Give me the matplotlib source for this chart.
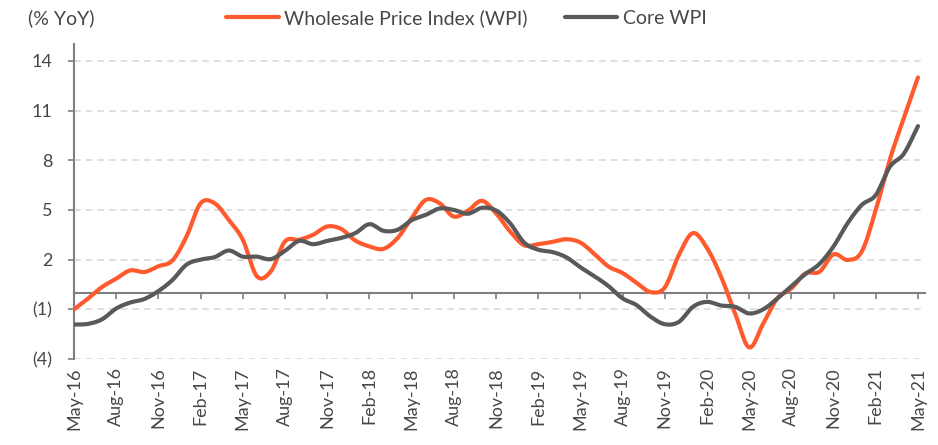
import numpy as np
import matplotlib
matplotlib.use("Agg")
import matplotlib.pyplot as plt

# monthly YoY, May-16 .. May-21
wpi = [-1.0, -0.35, 0.35, 0.85, 1.35, 1.25, 1.6, 1.95, 3.4, 5.4,
       5.4, 4.4, 3.2, 1.0, 1.3, 3.1, 3.2, 3.5, 4.0, 3.85,
       3.15, 2.8, 2.65, 3.3, 4.5, 5.6, 5.4, 4.6, 4.95, 5.55,
       4.8, 3.7, 2.87, 2.93, 3.07, 3.23, 3.03, 2.34, 1.58, 1.19,
       0.6, 0.04, 0.32, 2.28, 3.6, 2.7, 0.97, -1.25, -3.3, -1.86,
       -0.34, 0.26, 1.17, 1.27, 2.32, 1.98, 2.48, 5.0, 8.04, 10.57, 13.0]
core_wpi = [-1.92, -1.88, -1.6, -0.95, -0.59, -0.38, 0.1, 0.77, 1.7, 2.0,
            2.15, 2.55, 2.18, 2.18, 2.03, 2.53, 3.13, 2.93, 3.13, 3.31,
            3.6, 4.14, 3.74, 3.8, 4.38, 4.7, 5.09, 5.0, 4.77, 5.13,
            4.97, 4.2, 3.03, 2.6, 2.46, 2.14, 1.54, 1.0, 0.4, -0.34,
            -0.75, -1.45, -1.9, -1.76, -0.85, -0.55, -0.77, -0.85, -1.25, -1.0,
            -0.35, 0.4, 1.13, 1.74, 2.8, 4.2, 5.3, 5.9, 7.6, 8.4, 10.06]
month_labels = ['May-16', 'Aug-16', 'Nov-16', 'Feb-17', 'May-17', 'Aug-17', 'Nov-17',
                'Feb-18', 'May-18', 'Aug-18', 'Nov-18', 'Feb-19', 'May-19', 'Aug-19',
                'Nov-19', 'Feb-20', 'May-20', 'Aug-20', 'Nov-20', 'Feb-21', 'May-21']
y_ticks = [-4, -1, 2, 5, 8, 11, 14]
y_labels = ['(4)', '(1)', '2', '5', '8', '11', '14']

ORANGE = '#FF5A2D'
GREY = '#595959'
AXIS = '#7f7f7f'
TXT = '#474747'

plt.rcParams['font.family'] = ['Lato', 'DejaVu Sans']


def smooth(y, n=12):
    # catmull-rom, like excel's smoothed line
    y = np.asarray(y, float)
    p = np.concatenate([[2 * y[0] - y[1]], y, [2 * y[-1] - y[-2]]])
    t = np.linspace(0, 1, n, endpoint=False)
    xs, ys = [], []
    for k in range(len(y) - 1):
        p0, p1, p2, p3 = p[k:k + 4]
        ys.append(0.5 * (2 * p1 + (p2 - p0) * t + (2 * p0 - 5 * p1 + 4 * p2 - p3) * t ** 2
                         + (3 * p1 - p0 - 3 * p2 + p3) * t ** 3))
        xs.append(k + t)
    xs.append([len(y) - 1])
    ys.append([y[-1]])
    return np.concatenate(xs), np.concatenate(ys)


fig = plt.figure(figsize=(9.38, 4.45), dpi=100)
ax = fig.add_axes([74 / 938, 86 / 445, 851 / 938, 314.7 / 445])

ax.set_ylim(-4, 15)
ax.set_xlim(0, 60.5)
ax.set_yticks(y_ticks, y_labels)
ax.yaxis.grid(True, color='#d9d9d9', linestyle=(0, (4, 3)), linewidth=1.2)
ax.set_axisbelow(True)

x, y = smooth(wpi)
ax.plot(x, y, color=ORANGE, lw=3, solid_capstyle='round', label='Wholesale Price Index (WPI)', zorder=3)
x, y = smooth(core_wpi)
ax.plot(x, y, color=GREY, lw=3, solid_capstyle='round', label='Core WPI', zorder=3)

for s in ['top', 'right']:
    ax.spines[s].set_visible(False)
ax.spines['left'].set_color(AXIS)
ax.spines['left'].set_linewidth(1.5)
ax.spines['bottom'].set_position(('data', 0))
ax.spines['bottom'].set_color(AXIS)
ax.spines['bottom'].set_linewidth(1.5)

ticks = list(range(0, 61, 3))
ax.set_xticks(ticks)
ax.tick_params(axis='x', labelbottom=False, direction='out', length=4.5, width=1.2, color=AXIS)
ax.tick_params(axis='y', direction='out', length=4.5, width=1.2, color=AXIS,
               labelsize=13, labelcolor=TXT, pad=11)

sec = ax.secondary_xaxis(0)
sec.set_xticks(ticks, month_labels, rotation=90)
sec.tick_params(length=0, pad=6, labelsize=13, labelcolor=TXT)
sec.spines['bottom'].set_visible(False)

fig.text(28 / 938, 1 - 18 / 445, '(% YoY)', fontsize=14, color=TXT, va='center', ha='left')
ax.legend(loc='center left', bbox_to_anchor=(226 / 938, 1 - 18 / 445), bbox_transform=fig.transFigure,
          ncol=2, frameon=False, fontsize=14, handlelength=2.7, handletextpad=0.3,
          columnspacing=1.9, borderpad=0, borderaxespad=0, labelcolor=TXT)

fig.savefig('out.png', dpi=100)
